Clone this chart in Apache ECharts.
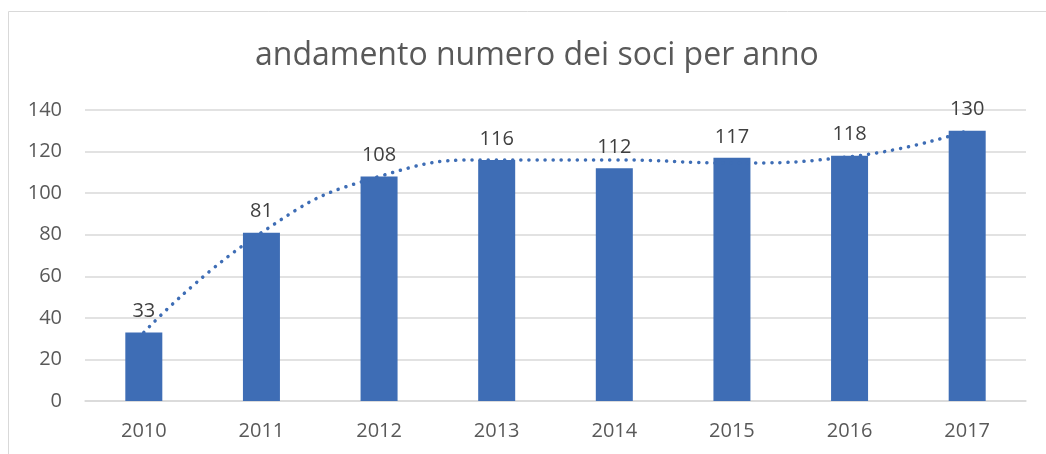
<!DOCTYPE html>
<html>
<head>
<meta charset="utf-8">
<script src="https://cdn.jsdelivr.net/npm/echarts@6/dist/echarts.min.js"></script>
<style>
  html, body { margin: 0; padding: 0; background: #fff; }
  #chart { width: 1046px; height: 454px; }
</style>
</head>
<body>
<div id="chart"></div>
<script>
// dati
const anni = ['2010', '2011', '2012', '2013', '2014', '2015', '2016', '2017'];
const soci = [33, 81, 108, 116, 112, 117, 118, 130];
// linea di tendenza (valori stimati sul grafico)
const tendenza = [33, 81, 108, 116, 116, 114.5, 117.5, 130];
const yTicks = [0, 20, 40, 60, 80, 100, 120, 140];

const chart = echarts.init(document.getElementById('chart'));
const font = '"Open Sans", "Noto Sans", sans-serif';
const blue = '#3E6DB5';

const option = {
  animation: false,
  title: {
    text: 'andamento numero dei soci per anno',
    left: 250,
    top: 35,
    textStyle: {
      fontFamily: font,
      fontSize: 32,
      fontWeight: 'normal',
      color: '#595959'
    }
  },
  graphic: [{
    type: 'rect',
    silent: true,
    shape: { x: 8.5, y: 11.5, width: 1200, height: 600 },
    style: { fill: 'none', stroke: '#D9D9D9', lineWidth: 1 }
  }],
  grid: {
    left: 85,
    right: 20,
    top: 110,
    bottom: 53
  },
  xAxis: {
    type: 'category',
    data: anni,
    axisTick: { show: false },
    axisLine: { lineStyle: { color: '#D9D9D9', width: 1.5 } },
    axisLabel: {
      margin: 20,
      fontFamily: font,
      fontSize: 20,
      color: '#595959'
    }
  },
  yAxis: {
    type: 'value',
    min: yTicks[0],
    max: yTicks[yTicks.length - 1],
    interval: 20,
    axisLine: { show: false },
    axisTick: { show: false },
    splitLine: { lineStyle: { color: '#D9D9D9', width: 1.5 } },
    axisLabel: {
      margin: 23,
      fontFamily: font,
      fontSize: 20,
      color: '#595959'
    }
  },
  series: [
    {
      type: 'bar',
      data: soci,
      barWidth: 37,
      itemStyle: { color: blue },
      label: {
        show: true,
        position: 'top',
        distance: 11,
        fontFamily: font,
        fontSize: 20,
        color: '#404040'
      },
      z: 2
    },
    {
      type: 'line',
      data: tendenza,
      smooth: true,
      symbol: 'none',
      lineStyle: {
        color: blue,
        width: 3.5,
        type: [0.1, 8],
        cap: 'round'
      },
      z: 3
    }
  ]
};

chart.setOption(option);
</script>
</body>
</html>
